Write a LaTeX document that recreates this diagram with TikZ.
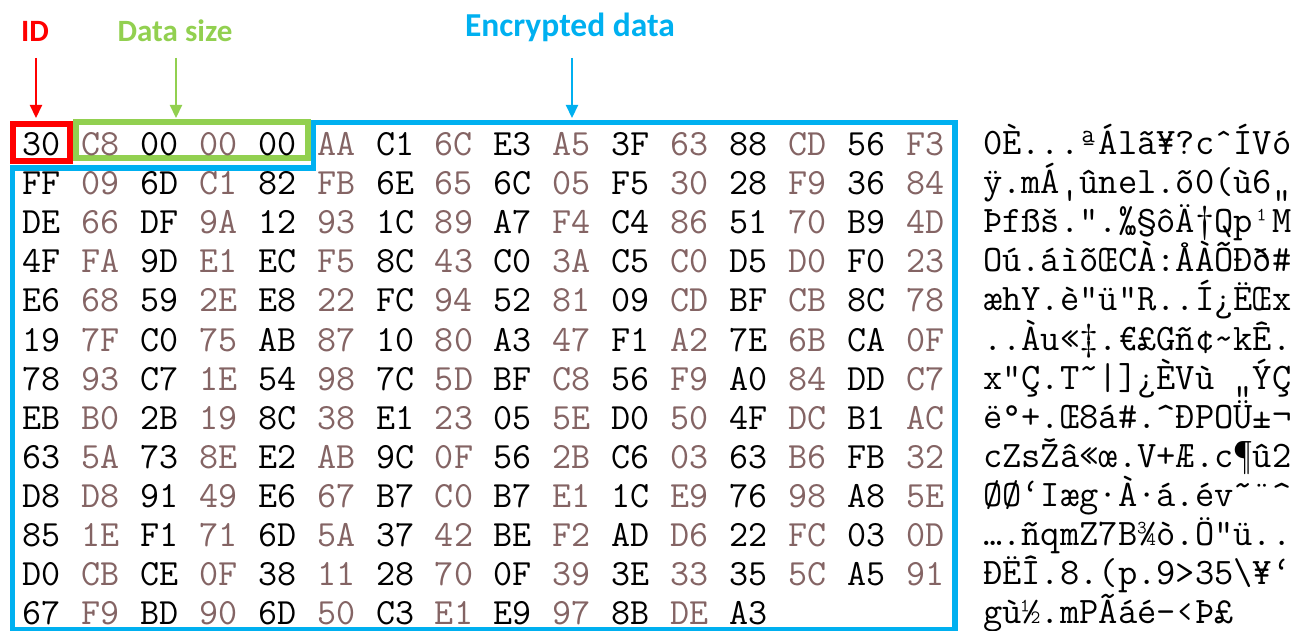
\documentclass[tikz,border=0pt]{standalone}
\usepackage{fontspec}
\newfontfamily\lblfont{Carlito}
\usetikzlibrary{arrows.meta}
\definecolor{idred}{RGB}{255,0,0}
\definecolor{sizegreen}{RGB}{146,208,80}
\definecolor{encblue}{RGB}{0,176,240}
\definecolor{hexbrown}{RGB}{132,100,100}
\tikzset{
  lbl/.style={font=\lblfont\bfseries\fontsize{31}{31}\selectfont, inner sep=0pt, anchor=base},
  hex/.style={font=\ttfamily\fontsize{37}{37}\selectfont, inner sep=0pt, anchor=base},
  asc/.style={font=\ttfamily\fontsize{37.4}{37.4}\selectfont, inner sep=0pt, anchor=base west},
  arr/.style={line width=2.2pt, -{Triangle[width=12pt,length=13pt]}},
  frame/.style={line width=6pt, line join=miter}
}
\begin{document}
\begin{tikzpicture}[x=1pt,y=-1pt]
\useasboundingbox (0,0) rectangle (1302,631);
% labels
\node[lbl, text=idred] (idlbl) at (35,42) {ID};
\node[lbl, text=sizegreen] (sizelbl) at (175,42) {Data size};
\node[lbl, text=encblue, font=\lblfont\bfseries\fontsize{33.5}{33.5}\selectfont] (enclbl) at (570,37) {Encrypted data};
\coordinate (idtop) at (36,58);
\coordinate (idtip) at (36,118);
\coordinate (sizetop) at (176,58);
\coordinate (sizetip) at (176,118);
\coordinate (enctop) at (572,58);
\coordinate (enctip) at (572,118);
\draw[arr, idred] (idtop) -- (idtip);
\draw[arr, sizegreen] (sizetop) -- (sizetip);
\draw[arr, encblue] (enctop) -- (enctip);
% frames
\draw[frame, encblue, line width=5.5pt] (313.5,122.5) -- (955,122.5) -- (955,629.5) -- (12.5,629.5) -- (12.5,168) -- (313.5,168) -- cycle;
\draw[frame, sizegreen, line width=5.5pt] (76,122) rectangle (308,158);
\draw[frame, idred] (13,124) rectangle (70,161);
% hex bytes
\foreach \r/\row in {
 0/{30,C8,00,00,00,AA,C1,6C,E3,A5,3F,63,88,CD,56,F3},
 1/{FF,09,6D,C1,82,FB,6E,65,6C,05,F5,30,28,F9,36,84},
 2/{DE,66,DF,9A,12,93,1C,89,A7,F4,C4,86,51,70,B9,4D},
 3/{4F,FA,9D,E1,EC,F5,8C,43,C0,3A,C5,C0,D5,D0,F0,23},
 4/{E6,68,59,2E,E8,22,FC,94,52,81,09,CD,BF,CB,8C,78},
 5/{19,7F,C0,75,AB,87,10,80,A3,47,F1,A2,7E,6B,CA,0F},
 6/{78,93,C7,1E,54,98,7C,5D,BF,C8,56,F9,A0,84,DD,C7},
 7/{EB,B0,2B,19,8C,38,E1,23,05,5E,D0,50,4F,DC,B1,AC},
 8/{63,5A,73,8E,E2,AB,9C,0F,56,2B,C6,03,63,B6,FB,32},
 9/{D8,D8,91,49,E6,67,B7,C0,B7,E1,1C,E9,76,98,A8,5E},
 10/{85,1E,F1,71,6D,5A,37,42,BE,F2,AD,D6,22,FC,03,0D},
 11/{D0,CB,CE,0F,38,11,28,70,0F,39,3E,33,35,5C,A5,91},
 12/{67,F9,BD,90,6D,50,C3,E1,E9,97,8B,DE,A3}} {
  \foreach \b [count=\c from 0] in \row {
    \ifodd\c\relax \def\hc{hexbrown}\else \def\hc{black}\fi
    \node[hex, text=\hc] (h\r-\c) at ({41.5+58.93*\c},{155.5+39.1*\r}) {\b};
  }
}
% ascii column
\node[asc] (a0) at (983,154.5) {0È...ªÁlã¥?cˆÍVó};
\node[asc] (a1) at (983,193.6) {ÿ.mÁ‚ûnel.õ0(ù6„};
\node[asc] (a2) at (983,232.7) {Þfßš.“.‰§ôÄ†Qp¹M};
\node[asc] (a3) at (983,271.8) {Oú.áìõŒCÀ:ÅÀÕÐð\#};
\node[asc] (a4) at (983,310.9) {æhY.è"ü”R..Í¿ËŒx};
\node[asc] (a5) at (983,350.0) {..Àu«‡.€£Gñ¢\textasciitilde kÊ.};
\node[asc] (a6) at (983,389.1) {x“Ç.T˜|]¿ÈVù\ „ÝÇ};
\node[asc] (a7) at (983,428.2) {ë°+.Œ8á\#.\textasciicircum ÐPOÜ±¬};
\node[asc] (a8) at (983,467.3) {cZsŽâ«œ.V+Æ.c¶û2};
\node[asc] (a9) at (983,506.4) {ØØ‘Iæg·À·á.év˜¨\textasciicircum};
\node[asc] (a10) at (983,545.5) {….ñqmZ7B¾ò.Ö"ü..};
\node[asc] (a11) at (983,584.6) {ÐËÎ.8.(p.9>35\textbackslash ¥‘};
\node[asc] (a12) at (983,623.2) {gù½.mPÃáé—‹Þ£};
\end{tikzpicture}
\end{document}
